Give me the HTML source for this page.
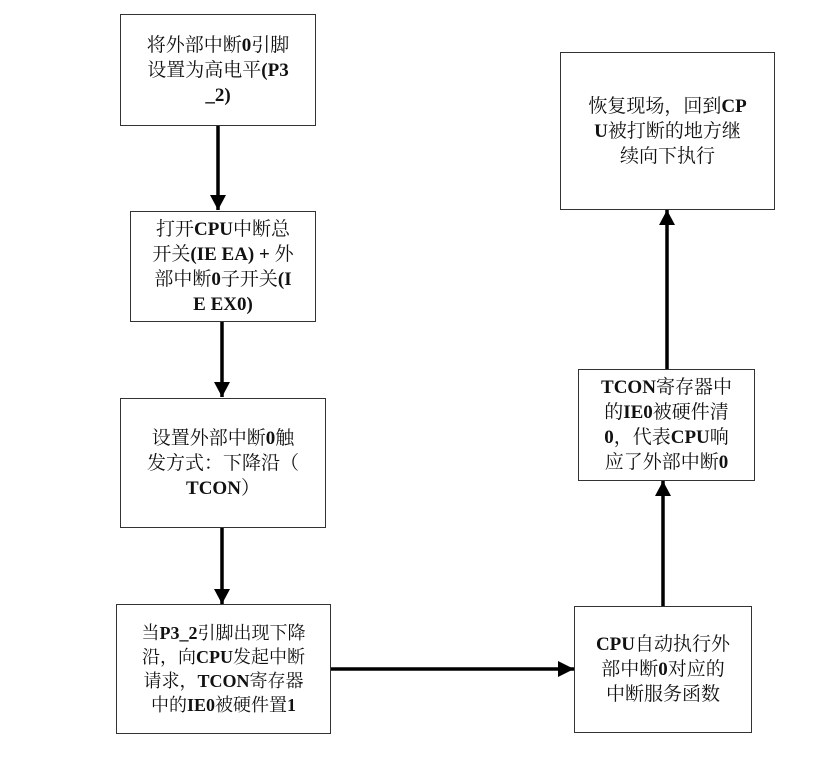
<!DOCTYPE html>
<html><head><meta charset="utf-8"><style>
body{margin:0;width:819px;height:777px;background:#fff;position:relative;overflow:hidden;
font-family:"Liberation Serif","Noto Serif CJK SC",serif;}
.b{position:absolute;border:1.5px solid #333;box-sizing:border-box;display:flex;align-items:center;justify-content:center;text-align:center;font-size:19px;line-height:25px;color:#111;}
.b>div{width:100%;white-space:nowrap;}
b{font-weight:bold;}
svg{position:absolute;left:0;top:0;}
</style></head><body>
<svg width="819" height="777">
<g stroke="#000" stroke-width="3.5" fill="none">
<line x1="218" y1="125" x2="218" y2="210"/>
<path d="M210,195 L226,195 L218,210 z" fill="#000" stroke="none"/>
<line x1="222" y1="321" x2="222" y2="397"/>
<path d="M214,382 L230,382 L222,397 z" fill="#000" stroke="none"/>
<line x1="222" y1="527" x2="222" y2="604"/>
<path d="M214,589 L230,589 L222,604 z" fill="#000" stroke="none"/>
<line x1="330" y1="669" x2="574" y2="669"/>
<path d="M558,661 L574,669 L558,677 z" fill="#000" stroke="none"/>
<line x1="663" y1="606" x2="663" y2="481"/>
<path d="M655,496 L671,496 L663,481 z" fill="#000" stroke="none"/>
<line x1="667" y1="370" x2="667" y2="210"/>
<path d="M659,225 L675,225 L667,210 z" fill="#000" stroke="none"/>
</g></svg>
<div class="b" style="left:120px;top:14px;width:196px;height:112px;"><div>将外部中断<b>0</b>引脚<br>设置为高电平<b>(P3</b><br><b>_2)</b></div></div>
<div class="b" style="left:130px;top:211px;width:186px;height:111px;"><div>打开<b>CPU</b>中断总<br>开关<b>(IE EA) +</b> 外<br>部中断<b>0</b>子开关<b>(I</b><br><b>E EX0)</b></div></div>
<div class="b" style="left:120px;top:398px;width:206px;height:130px;"><div>设置外部中断<b>0</b>触<br>发方式：下降沿（<br><b>TCON</b>）</div></div>
<div class="b" style="left:116px;top:604px;width:215px;height:130px;font-size:18px;line-height:24px;"><div>当<b>P3_2</b>引脚出现下降<br>沿，向<b>CPU</b>发起中断<br>请求，<b>TCON</b>寄存器<br>中的<b>IE0</b>被硬件置<b>1</b></div></div>
<div class="b" style="left:574px;top:606px;width:178px;height:127px;"><div><b>CPU</b>自动执行外<br>部中断<b>0</b>对应的<br>中断服务函数</div></div>
<div class="b" style="left:578px;top:369px;width:177px;height:112px;"><div><b>TCON</b>寄存器中<br>的<b>IE0</b>被硬件清<br><b>0</b>，代表<b>CPU</b>响<br>应了外部中断<b>0</b></div></div>
<div class="b" style="left:560px;top:52px;width:215px;height:158px;"><div>恢复现场，回到<b>CP</b><br><b>U</b>被打断的地方继<br>续向下执行</div></div>
</body></html>
